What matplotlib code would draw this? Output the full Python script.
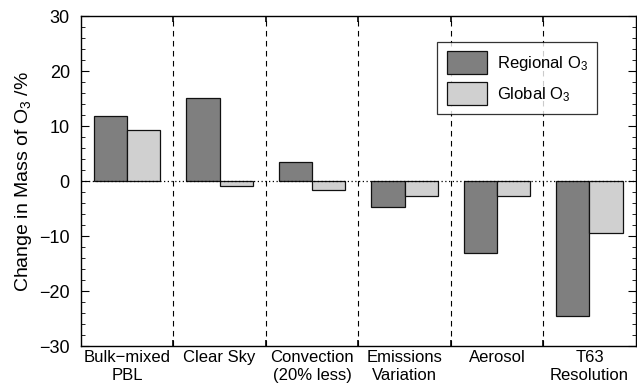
import numpy as np
import matplotlib.pyplot as plt
from matplotlib.ticker import MultipleLocator, FixedLocator, NullFormatter

plt.rcParams['font.family'] = ['Liberation Sans', 'DejaVu Sans']
plt.rcParams['mathtext.fontset'] = 'custom'
plt.rcParams['mathtext.rm'] = 'Liberation Sans'
plt.rcParams['mathtext.it'] = 'Liberation Sans'

# Data
categories = ['Bulk\u2212mixed\nPBL', 'Clear Sky', 'Convection\n(20% less)',
              'Emissions\nVariation', 'Aerosol', 'T63\nResolution']
regional = [11.8, 15.1, 3.4, -4.7, -13.1, -24.5]
global_o3 = [9.3, -0.9, -1.6, -2.7, -2.7, -9.5]

REG_COLOR = '#7f7f7f'
GLB_COLOR = '#d0d0d0'
BAR_W = 0.36

fig = plt.figure(figsize=(6.37, 3.85), dpi=100)
ax = fig.add_axes([0.127, 0.101, 0.871, 0.857])

x = np.arange(len(categories))
ax.bar(x + 0.5 - BAR_W, regional, BAR_W, align='edge', color=REG_COLOR,
       edgecolor='#111111', linewidth=0.9, label='Regional O$_3$', zorder=3)
ax.bar(x + 0.5, global_o3, BAR_W, align='edge', color=GLB_COLOR,
       edgecolor='#111111', linewidth=0.9, label='Global O$_3$', zorder=3)

# Separators between experiments and zero line
for b in range(1, len(categories)):
    ax.axvline(b, color='black', linestyle=(0, (5, 4)), linewidth=0.8, zorder=1)
ax.axhline(0, color='black', linestyle=(0, (1, 2)), linewidth=0.9, zorder=4)

ax.set_xlim(0, len(categories))
ax.set_ylim(-30, 30)

# x: boundary ticks without labels, labels at centres
ax.xaxis.set_major_locator(FixedLocator(np.arange(1, len(categories))))
ax.xaxis.set_major_formatter(NullFormatter())
ax.set_xticks(x + 0.5, categories, minor=True, fontsize=12)
ax.tick_params(axis='x', which='major', direction='in', length=4,
               top=True, bottom=True, width=1.2)
ax.tick_params(axis='x', which='minor', length=0, pad=3)

ax.yaxis.set_major_locator(MultipleLocator(10))
ax.yaxis.set_minor_locator(MultipleLocator(2))
ax.tick_params(axis='y', which='major', direction='in', length=6,
               left=True, right=True, labelsize=13, pad=8)
ax.tick_params(axis='y', which='minor', direction='in', length=3,
               left=True, right=True)
ax.set_yticks([-30, -20, -10, 0, 10, 20, 30],
              ['\u221230', '\u221220', '\u221210', '0', '10', '20', '30'])
ax.set_ylabel('Change in Mass of O$_3$ /%', fontsize=14, labelpad=4)

for s in ax.spines.values():
    s.set_linewidth(1.0)

leg = ax.legend(loc='upper right', bbox_to_anchor=(0.930, 0.921), fontsize=12,
                frameon=True, fancybox=False, edgecolor='black',
                borderaxespad=0, handlelength=2.4, handleheight=1.7,
                borderpad=0.55, labelspacing=0.5, handletextpad=0.6)
leg.get_frame().set_linewidth(0.9)

fig.savefig('out.png', dpi=100)
